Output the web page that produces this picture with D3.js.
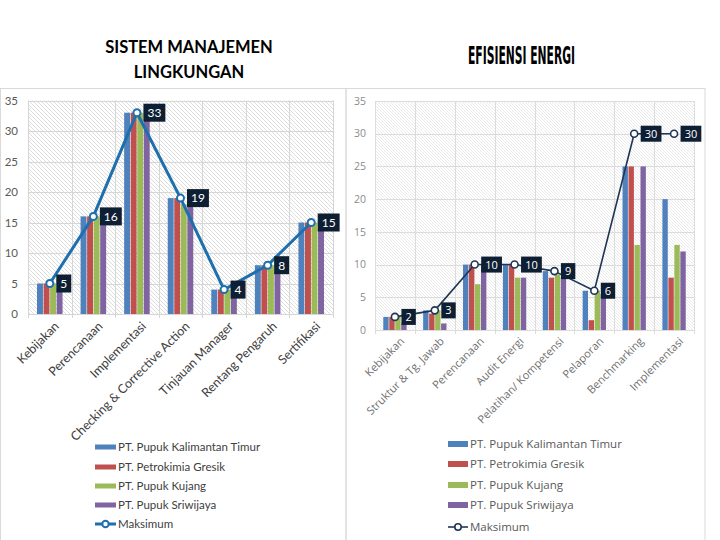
<!DOCTYPE html>
<html><head><meta charset="utf-8">
<script src="https://cdn.jsdelivr.net/npm/d3@7"></script>
<style>body{margin:0;background:#fff}svg{display:block}</style>
</head><body>
<script>
// ---- DATA ----
const seriesNames = ["PT. Pupuk Kalimantan Timur","PT. Petrokimia Gresik","PT. Pupuk Kujang","PT. Pupuk Sriwijaya"];
const lineName = "Maksimum";
const colors = ["#4f81bd","#c0504d","#9bbb59","#8064a2"];
const yTicks = [0,5,10,15,20,25,30,35];

const smlCategories = ["Kebijakan","Perencanaan","Implementasi","Checking & Corrective Action","Tinjauan Manager","Rentang Pengaruh","Sertifikasi"];
const smlKaltim   = [5,16,33,19,4,8,15];
const smlPetro    = [5,16,33,19,4,8,15];
const smlKujang   = [5,16,33,18,4,8,15];
const smlSriwij   = [4,16,33,18,3,7,14];
const smlMaks     = [5,16,33,19,4,8,15];

const eeCategories = ["Kebijakan","Struktur & Tg. Jawab","Perencanaan","Audit Energi","Pelatihan/ Kompetensi","Pelaporan","Benchmarking","Implementasi"];
const eeKaltim = [2,3,10,10,9,6,25,20];
const eePetro  = [2,2.5,10,10,8,1.5,25,8];
const eeKujang = [2,3,7,8,8.5,6,13,13];
const eeSriwij = [1,1,10,8,8,5.5,25,12];
const eeMaks   = [2,3,10,10,9,6,30,30];

const W=720,H=540;
const svg=d3.select("body").append("svg").attr("width",W).attr("height",H);
const defs=svg.append("defs");
// hatch patterns
const p1=defs.append("pattern").attr("id","hatchL").attr("patternUnits","userSpaceOnUse").attr("width",4).attr("height",4);
p1.append("path").attr("d","M-1,-1 L5,5 M-1,3 L1,5 M3,-1 L5,1").attr("stroke","#d4d4d4").attr("stroke-width",0.8);
const p2=defs.append("pattern").attr("id","hatchR").attr("patternUnits","userSpaceOnUse").attr("width",3).attr("height",3);
p2.append("path").attr("d","M-1,-1 L4,4 M-1,2 L1,4 M2,-1 L4,1").attr("stroke","#e2e2e2").attr("stroke-width",0.7);

// panel frames
svg.append("rect").attr("x",0.5).attr("y",88.5).attr("width",345.5).attr("height",460).attr("fill","none").attr("stroke","#d9d9d9");
svg.append("rect").attr("x",346).attr("y",88.5).attr("width",359).attr("height",460).attr("fill","none").attr("stroke","#d9d9d9");

// titles
svg.append("text").attr("x",189).attr("y",53).attr("text-anchor","middle").attr("font-family","Lato, 'Open Sans', sans-serif").attr("font-weight","bold").attr("font-size",16.5).attr("fill","#000").text("SISTEM MANAJEMEN");
svg.append("text").attr("x",189).attr("y",78).attr("text-anchor","middle").attr("font-family","Lato, 'Open Sans', sans-serif").attr("font-weight","bold").attr("font-size",16.5).attr("fill","#000").text("LINGKUNGAN");
svg.append("text").attr("x",468).attr("y",64).attr("font-family","'Liberation Sans Narrow','DejaVu Sans Condensed',sans-serif").attr("font-weight","bold").attr("font-size",24)
  .attr("textLength",107).attr("lengthAdjust","spacingAndGlyphs").attr("fill","#000").text("EFISIENSI ENERGI");

function drawChart(cfg){
  const {cats,series,maks,x0,x1,yTop,yBot,hatch,font,tickColor,tickX,tickFs,labelFs,labelColor,labelY,labelDx,lineColor,lineW,markR,boxFs,boxH,gridColor} = cfg;
  const x=d3.scaleBand().domain(cats).range([x0,x1]).padding(0);
  const y=d3.scaleLinear().domain([0,35]).range([yBot,yTop]);
  const g=svg.append("g");
  g.append("rect").attr("x",x0).attr("y",yTop).attr("width",x1-x0).attr("height",yBot-yTop).attr("fill","url(#"+hatch+")");
  // gridlines
  g.selectAll(".hg").data(yTicks).join("line").attr("x1",x0).attr("x2",x1).attr("y1",d=>Math.round(y(d))+0.5).attr("y2",d=>Math.round(y(d))+0.5).attr("stroke",gridColor).attr("stroke-width",1);
  const bounds=cats.map(c=>x(c)).concat([x1]);
  g.selectAll(".vg").data(bounds).join("line").attr("x1",d=>Math.round(d)+0.5).attr("x2",d=>Math.round(d)+0.5).attr("y1",yTop).attr("y2",yBot+4).attr("stroke",gridColor);
  // y tick labels
  g.selectAll(".yt").data(yTicks).join("text").attr("x",tickX).attr("y",d=>y(d)).attr("dy","0.35em").attr("text-anchor","end")
    .attr("font-family",font).attr("font-size",tickFs).attr("fill",tickColor).text(d=>d);
  // bars
  const gw=x.bandwidth()*0.6;
  const xs=d3.scaleBand().domain(d3.range(series.length)).range([0,gw]).padding(0);
  series.forEach((s,si)=>{
    g.selectAll(null).data(s).join("rect")
      .attr("x",(d,i)=>x(cats[i])+(x.bandwidth()-gw)/2+xs(si)+0.3)
      .attr("width",xs.bandwidth()-0.6)
      .attr("y",d=>y(d)).attr("height",d=>yBot-y(d)).attr("fill",colors[si]);
  });
  // line
  const cx=i=>x(cats[i])+x.bandwidth()/2;
  g.append("path").datum(maks).attr("fill","none").attr("stroke",lineColor).attr("stroke-width",lineW).attr("stroke-linejoin","round")
    .attr("d",d3.line().x((d,i)=>cx(i)).y(d=>y(d)));
  g.selectAll(".mk").data(maks).join("circle").attr("cx",(d,i)=>cx(i)).attr("cy",d=>y(d)).attr("r",markR)
    .attr("fill","#fff").attr("stroke",lineColor).attr("stroke-width",Math.min(lineW,2));
  // data label boxes
  maks.forEach((d,i)=>{
    const t=String(d);
    const bw=t.length*boxFs*0.58+8;
    const bx=cx(i)+markR+3, by=y(d)-boxH/2;
    g.append("rect").attr("x",bx).attr("y",by).attr("width",bw).attr("height",boxH).attr("fill","#0e1e33");
    g.append("text").attr("x",bx+bw/2).attr("y",y(d)).attr("dy","0.36em").attr("text-anchor","middle")
      .attr("font-family",font).attr("font-size",boxFs).attr("fill","#fff").text(t);
  });
  // x labels
  g.selectAll(".xl").data(cats).join("text")
    .attr("transform",(d,i)=>`translate(${cx(i)+labelDx},${labelY}) rotate(-45)`)
    .attr("text-anchor","end").attr("font-family",font).attr("font-size",labelFs).attr("fill",labelColor).text(d=>d);
  return {x,y};
}

drawChart({cats:smlCategories,series:[smlKaltim,smlPetro,smlKujang,smlSriwij],maks:smlMaks,
  x0:28,x1:333,yTop:100.5,yBot:314,hatch:"hatchL",font:"Lato, 'Open Sans', sans-serif",tickColor:"#595959",tickX:18,tickFs:11.5,
  labelFs:12.5,labelColor:"#404040",labelY:327,labelDx:10,lineColor:"#1d6fae",lineW:3,markR:3.5,boxFs:12,boxH:18,gridColor:"#d6d6d6"});

drawChart({cats:eeCategories,series:[eeKaltim,eePetro,eeKujang,eeSriwij],maks:eeMaks,
  x0:375,x1:694,yTop:101,yBot:330,hatch:"hatchR",font:"'Open Sans', sans-serif",tickColor:"#8c8c8c",tickX:366,tickFs:10.5,
  labelFs:11,labelColor:"#6f6f6f",labelY:342,labelDx:10,lineColor:"#1f3556",lineW:1.6,markR:3.5,boxFs:11,boxH:16,gridColor:"#dcdcdc"});

// legends
function legend(x0,ys,sw,tx,fs,font,col,lineColor,lineW,swH){
  const g=svg.append("g");
  seriesNames.forEach((n,i)=>{
    g.append("rect").attr("x",x0).attr("y",ys[i]-swH/2).attr("width",sw).attr("height",swH).attr("fill",colors[i]);
    g.append("text").attr("x",tx).attr("y",ys[i]).attr("dy","0.35em").attr("font-family",font).attr("font-size",fs).attr("fill",col).text(n);
  });
  const yl=ys[4];
  g.append("line").attr("x1",x0).attr("x2",x0+sw).attr("y1",yl).attr("y2",yl).attr("stroke",lineColor).attr("stroke-width",lineW);
  g.append("circle").attr("cx",x0+sw/2).attr("cy",yl).attr("r",3.2).attr("fill","#fff").attr("stroke",lineColor).attr("stroke-width",Math.min(lineW,2));
  g.append("text").attr("x",tx).attr("y",yl).attr("dy","0.35em").attr("font-family",font).attr("font-size",fs).attr("fill",col).text(lineName);
}
legend(95,[447,467,486,505,524],21,118,11.5,"Lato, 'Open Sans', sans-serif","#404040","#1d6fae",3,5);
legend(448,[444,464,485,505,527],20,470,11.5,"'Open Sans', sans-serif","#595959","#1f3556",1.6,6);
</script>
</body></html>
